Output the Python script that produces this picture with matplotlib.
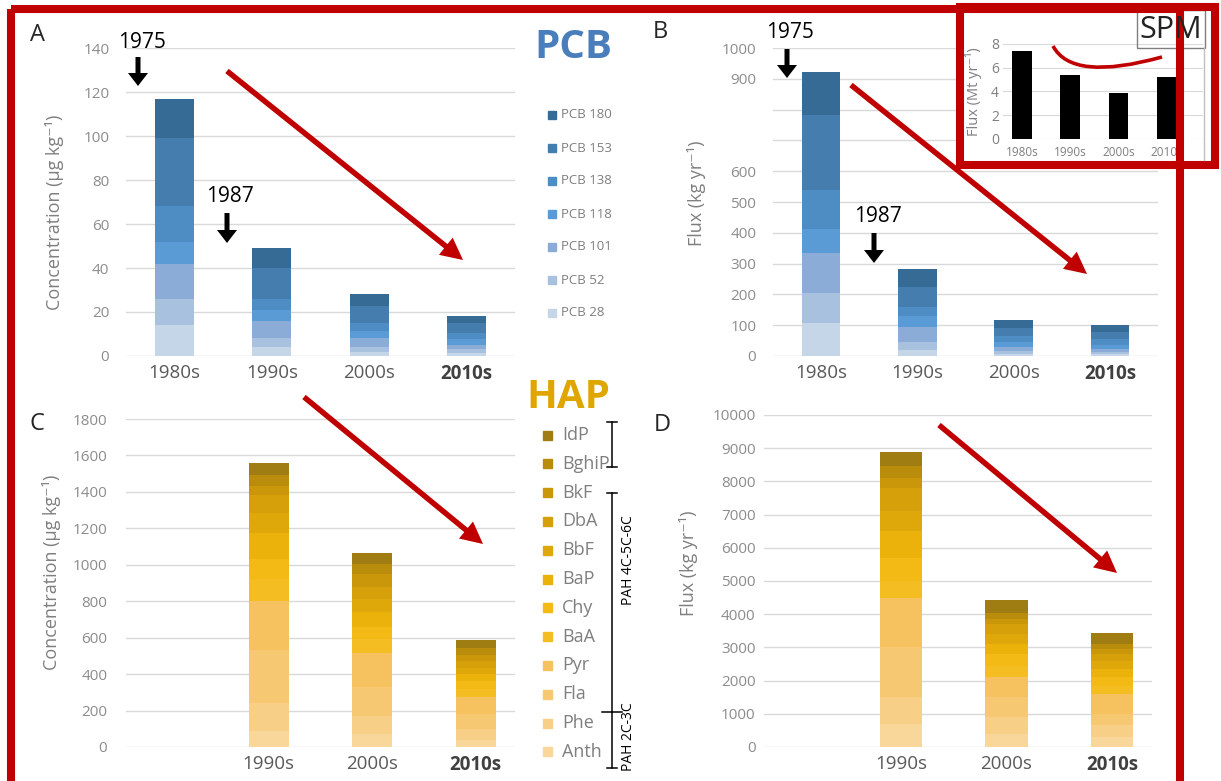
import numpy as np
import matplotlib
matplotlib.use("Agg")
import matplotlib.pyplot as plt
from matplotlib.patches import Rectangle, FancyArrow, PathPatch
from matplotlib.path import Path

W, H = 1221, 781

# ---------------- data ----------------
decades = ["1980s", "1990s", "2000s", "2010s"]
hap_decades = ["1990s", "2000s", "2010s"]

# PCB congeners, stacked bottom -> top
pcb_names = ["PCB 28", "PCB 52", "PCB 101", "PCB 118", "PCB 138", "PCB 153", "PCB 180"]
pcb_conc_1980s = [14, 12, 16, 10, 16, 31, 18]
pcb_conc_1990s = [4, 4, 8, 5, 5, 14, 9]
pcb_conc_2000s = [2, 2, 4, 3.5, 3.5, 7.5, 5.5]
pcb_conc_2010s = [1.5, 1.5, 2, 2.5, 3, 4.5, 3]

pcb_flux_1980s = [106, 97, 130, 78, 128, 243, 141]
pcb_flux_1990s = [20, 27, 48, 35, 30, 65, 57]
pcb_flux_2000s = [8, 8, 12, 16, 20, 26, 27]
pcb_flux_2010s = [7, 7, 10, 13, 18, 24, 22]

spm_flux = [7.45, 5.4, 3.85, 5.25]  # Mt/yr

# PAH compounds, stacked bottom -> top
hap_names = ["Anth", "Phe", "Fla", "Pyr", "BaA", "Chy", "BaP", "BbF", "DbA", "BkF", "BghiP", "IdP"]
hap_conc_1990s = [90, 150, 290, 270, 120, 110, 145, 110, 100, 50, 55, 68]
hap_conc_2000s = [70, 100, 160, 185, 75, 70, 80, 70, 70, 70, 55, 61]
hap_conc_2010s = [40, 60, 80, 95, 45, 40, 40, 35, 35, 35, 40, 42]

hap_flux_1990s = [700, 800, 1500, 1500, 500, 700, 800, 600, 700, 300, 350, 440]
hap_flux_2000s = [400, 500, 600, 600, 350, 350, 300, 300, 300, 150, 200, 370]
hap_flux_2010s = [300, 350, 350, 600, 250, 250, 250, 250, 200, 150, 150, 340]

pcb_colors = ["#c6d6e9", "#a8c1df", "#8aacd6", "#5b9bd5", "#4e8cc4", "#467daf", "#356b95"]
hap_colors = ["#f9d69a", "#f8cf86", "#f6c872", "#f5c25f", "#f4bd22", "#f3b914",
              "#ebb20b", "#dfa80a", "#d5a009", "#c99709", "#b98c0b", "#a07d12"]

RED = "#c00000"
TICK_GREY = "#8c8c8c"
LABEL_GREY = "#7f7f7f"

plt.rcParams["font.family"] = ["Open Sans", "DejaVu Sans"]

fig = plt.figure(figsize=(W / 100, H / 100), dpi=100)
fig.patch.set_facecolor("white")


def px_axes(x0, y0, x1, y1, z=1):
    return fig.add_axes([x0 / W, 1 - y1 / H, (x1 - x0) / W, (y1 - y0) / H], zorder=z)


def stacked_panel(rect, labels, stacks, colors, ylim, yticks, ytlabels, ypad, xlim, width):
    ax = px_axes(*rect)
    xpos = np.arange(len(labels)) + (1 if len(labels) == 3 else 0)
    bottom = np.zeros(len(labels))
    for vals, c in zip(stacks, colors):
        ax.bar(xpos, vals, width, bottom=bottom, color=c, linewidth=0, zorder=2)
        bottom += np.asarray(vals, dtype=float)
    ax.set_xlim(*xlim)
    ax.set_ylim(*ylim)
    ax.set_yticks(yticks)
    ax.set_yticklabels(ytlabels)
    ax.set_xticks(xpos)
    ax.set_xticklabels(labels)
    ax.grid(axis="y", color="#d9d9d9", lw=1.0, zorder=0)
    ax.set_axisbelow(True)
    for s in ax.spines.values():
        s.set_visible(False)
    ax.tick_params(axis="y", length=0, pad=ypad, labelsize=11, labelcolor=TICK_GREY)
    ax.tick_params(axis="x", length=0, pad=6, labelsize=13.5, labelcolor="#595959")
    last = ax.get_xticklabels()[-1]
    last.set_fontweight("bold")
    last.set_color("#404040")
    return ax


# stacks: one row per compound, one column per decade
pcb_conc = np.column_stack([pcb_conc_1980s, pcb_conc_1990s, pcb_conc_2000s, pcb_conc_2010s])
pcb_flux = np.column_stack([pcb_flux_1980s, pcb_flux_1990s, pcb_flux_2000s, pcb_flux_2010s])
hap_conc = np.column_stack([hap_conc_1990s, hap_conc_2000s, hap_conc_2010s])
hap_flux = np.column_stack([hap_flux_1990s, hap_flux_2000s, hap_flux_2010s])

# A
yt = np.arange(0, 141, 20)
stacked_panel((126, 48, 515, 356), decades, pcb_conc, pcb_colors, (0, 140),
              yt, [str(v) for v in yt], 12, (-0.5, 3.5), 0.40)

# B
yt = np.arange(0, 1001, 100)
stacked_panel((773, 48, 1158, 356), decades, pcb_flux, pcb_colors, (0, 1000),
              yt, ["" if v in (700, 800) else str(v) for v in yt], 12, (-0.5, 3.5), 0.40)

# C
yt = np.arange(0, 1801, 200)
stacked_panel((126, 419, 515, 747), hap_decades, hap_conc, hap_colors, (0, 1800),
              yt, [str(v) for v in yt], 13.5, (-0.38, 3.38), 0.39)

# D
yt = np.arange(0, 10001, 1000)
stacked_panel((764, 415, 1152, 747), hap_decades, hap_flux, hap_colors, (0, 10000),
              yt, [str(v) for v in yt], 6, (-0.30, 3.38), 0.40)

# white background behind the SPM inset
bg = px_axes(960, 7, 1215, 165, z=3)
bg.set_facecolor("white")
bg.set_xticks([])
bg.set_yticks([])
for s in bg.spines.values():
    s.set_visible(False)

# SPM inset
ins = px_axes(1003, 44, 1203, 139, z=4)
ins.patch.set_alpha(0)
ins.bar(np.arange(4), spm_flux, 0.40, color="black", zorder=2)
ins.set_xlim(-0.39, 3.75)
ins.set_ylim(0, 8)
ins.set_yticks([0, 2, 4, 6, 8])
ins.set_xticks(np.arange(4))
ins.set_xticklabels(decades)
ins.grid(axis="y", color="#d9d9d9", lw=0.8, zorder=0)
ins.set_axisbelow(True)
for s in ins.spines.values():
    s.set_visible(False)
ins.tick_params(axis="y", length=0, pad=3, labelsize=10, labelcolor=LABEL_GREY)
ins.tick_params(axis="x", length=0, pad=5, labelsize=8.5, labelcolor=LABEL_GREY)

# ---------------- overlay in pixel coordinates ----------------
ov = fig.add_axes([0, 0, 1, 1], zorder=10)
ov.set_xlim(0, W)
ov.set_ylim(H, 0)
ov.axis("off")
ov.patch.set_alpha(0)

# panel letters
for letter, x, y in [("A", 37, 35), ("B", 660, 32), ("C", 37, 424), ("D", 662, 425)]:
    ov.text(x, y, letter, fontsize=17, color="#262626", ha="center", va="center")

# axis titles
ylab_kw = dict(rotation=90, ha="center", va="center", fontsize=13, color=LABEL_GREY)
ov.text(55, 212, "Concentration (µg kg⁻¹)", **ylab_kw)
ov.text(52, 572, "Concentration (µg kg⁻¹)", **ylab_kw)
ov.text(697, 193, "Flux (kg yr⁻¹)", **ylab_kw)
ov.text(688, 563, "Flux (kg yr⁻¹)", **ylab_kw)
ov.text(973, 92, "Flux (Mt yr⁻¹)", rotation=90, ha="center", va="center",
        fontsize=10.5, color=LABEL_GREY)

# group titles
ov.text(573, 48, "PCB", fontsize=29, fontweight="bold", color="#4a7ebb", ha="center", va="center")
ov.text(568, 398, "HAP", fontsize=29, fontweight="bold", color="#e0a600", ha="center", va="center")

# PCB legend (top -> bottom)
for i, (name, c) in enumerate(zip(pcb_names[::-1], pcb_colors[::-1])):
    y = 115 + i * 33
    ov.add_patch(Rectangle((548, y - 4), 8, 8, color=c))
    ov.text(561, y, name, fontsize=9.5, color=LABEL_GREY, ha="left", va="center")

# PAH legend (top -> bottom)
for i, (name, c) in enumerate(zip(hap_names[::-1], hap_colors[::-1])):
    y = 435 + i * 28.8
    ov.add_patch(Rectangle((543, y - 4.5), 9, 9, color=c))
    ov.text(562, y, name, fontsize=13, color=LABEL_GREY, ha="left", va="center")

# brackets beside PAH legend
bx = 612
for y0, y1 in [(422, 467), (493, 712), (712, 768)]:
    ov.plot([bx, bx], [y0, y1], color="black", lw=1.1)
for y in [422, 467, 493, 768]:
    ov.plot([bx - 5, bx + 5], [y, y], color="black", lw=1.1)
ov.plot([bx - 10, bx + 10], [712, 712], color="black", lw=1.1)
ov.text(628, 560, "PAH 4C-5C-6C", rotation=90, fontsize=10, ha="center", va="center", color="black")
ov.text(628, 737, "PAH 2C-3C", rotation=90, fontsize=10, ha="center", va="center", color="black")

# year markers with black arrows
for label, tx, ty, ax_x, ay0, ay1 in [("1975", 142, 42, 138, 57, 86),
                                       ("1987", 230, 197, 227, 213, 243),
                                       ("1975", 790, 33, 787, 49, 78),
                                       ("1987", 878, 217, 874, 233, 263)]:
    ov.text(tx, ty, label, fontsize=15, color="black", ha="center", va="center")
    ov.add_patch(FancyArrow(ax_x, ay0, 0, ay1 - ay0, width=5, head_width=20, head_length=13,
                            length_includes_head=True, color="black", lw=0))

# red trend arrows
for x0, y0, x1, y1 in [(227, 71, 463, 260), (851, 85, 1087, 274),
                       (304, 397, 483, 544), (939, 425, 1117, 573)]:
    ov.add_patch(FancyArrow(x0, y0, x1 - x0, y1 - y0, width=5.5, head_width=22, head_length=22,
                            length_includes_head=True, color=RED, lw=0))

# SPM label box and inset frame
ov.add_patch(Rectangle((1137, 10), 68, 38, fill=False, edgecolor="#7f7f7f", lw=1))
ov.plot([1204, 1204], [48, 160], color="#bfbfbf", lw=1)
ov.text(1171, 30, "SPM", fontsize=22, color="#222222", ha="center", va="center")

# red "smile" over the SPM bars
smile = Path([(1053, 46), (1072, 82), (1162, 57)], [Path.MOVETO, Path.CURVE3, Path.CURVE3])
ov.add_patch(PathPatch(smile, fill=False, edgecolor=RED, lw=2.6))

# big red frame and inset red frame
ov.add_patch(Rectangle((11, 9), 1180 - 11, 800, fill=False, edgecolor=RED, lw=5.8))
ov.add_patch(Rectangle((960, 7), 1215 - 960, 165 - 7, fill=False, edgecolor=RED, lw=5.8))

fig.savefig("out.png", dpi=100, facecolor="white")
